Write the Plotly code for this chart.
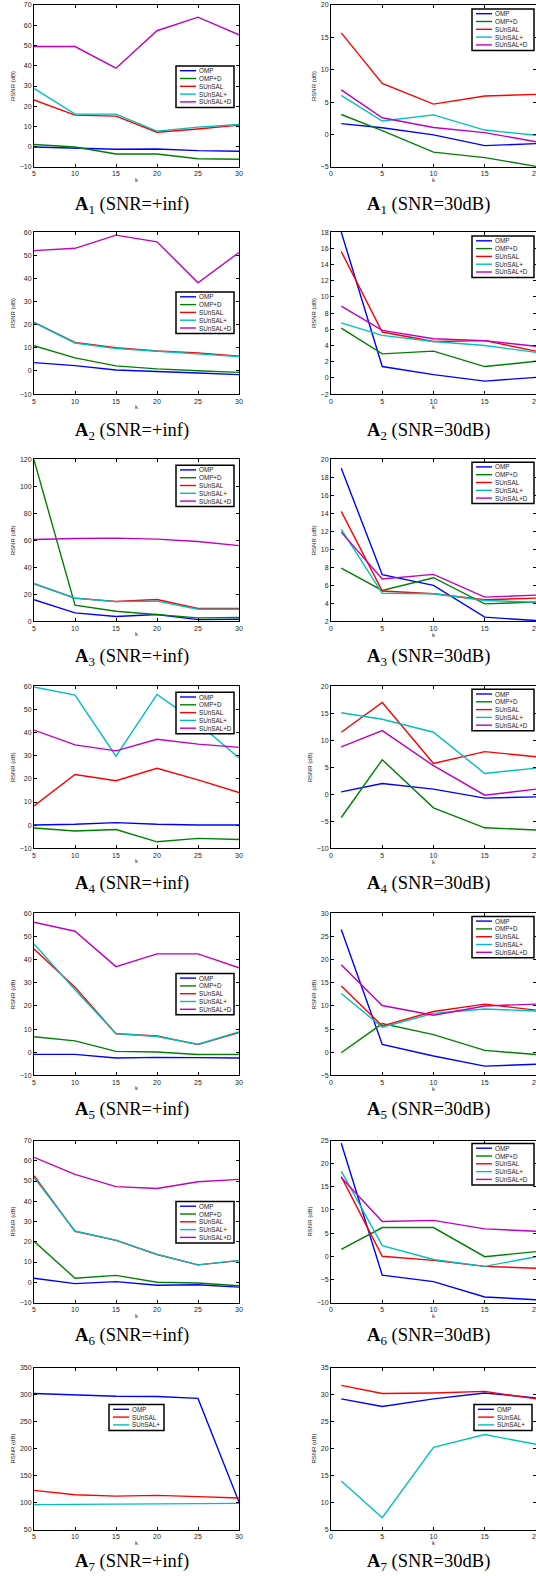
import plotly.graph_objects as go

# ---------------- data ----------------
K_INF = [5, 10, 15, 20, 25, 30]
K_30 = [1, 5, 10, 15, 20]
NAMES5 = ["OMP", "OMP+D", "SUnSAL", "SUnSAL+", "SUnSAL+D"]
NAMES3 = ["OMP", "SUnSAL", "SUnSAL+"]
TITLES = ["SNR=+inf", "SNR=30dB"]

A1_INF_OMP = [-0.1, -0.6, -1.2, -1.1, -1.9, -2.2]
A1_INF_OMPD = [1.1, -0.1, -3.6, -3.6, -5.9, -6.2]
A1_INF_SUN = [23.1, 15.6, 15.1, 7.2, 8.8, 10.7]
A1_INF_SUNP = [28.8, 16.1, 16.1, 7.7, 9.7, 11.0]
A1_INF_SUND = [49.5, 49.5, 38.8, 57.3, 64.0, 55.3]

A1_30_OMP = [1.7, 1.05, -0.05, -1.7, -1.4]
A1_30_OMPD = [3.1, 0.6, -2.7, -3.55, -4.9]
A1_30_SUN = [15.7, 7.9, 4.7, 5.95, 6.2]
A1_30_SUNP = [6.05, 2.1, 3.05, 0.7, -0.1]
A1_30_SUND = [6.9, 2.6, 1.1, 0.3, -1.1]

A2_INF_OMP = [3.6, 2.3, 0.4, -0.4, -0.9, -1.6]
A2_INF_OMPD = [10.9, 5.65, 2.2, 0.9, 0.1, -0.6]
A2_INF_SUN = [21.0, 12.3, 10.1, 8.6, 7.8, 6.4]
A2_INF_SUNP = [21.0, 12.1, 9.7, 8.5, 7.3, 6.2]
A2_INF_SUND = [52.0, 53.0, 58.7, 55.8, 38.1, 51.2]

A2_30_OMP = [18.0, 1.4, 0.4, -0.4, 0.07]
A2_30_OMPD = [6.15, 2.97, 3.3, 1.4, 2.05]
A2_30_SUN = [15.6, 5.66, 4.5, 4.6, 3.3]
A2_30_SUNP = [6.8, 5.25, 4.5, 4.0, 3.15]
A2_30_SUND = [8.85, 5.87, 4.83, 4.6, 3.9]

A3_INF_OMP = [15.9, 6.2, 3.5, 5.0, 1.2, 1.5]
A3_INF_OMPD = [119.5, 11.9, 7.4, 5.2, 2.5, 2.7]
A3_INF_SUN = [27.8, 17.1, 14.6, 16.1, 9.4, 9.4]
A3_INF_SUNP = [27.8, 17.0, 14.5, 14.9, 8.9, 8.8]
A3_INF_SUND = [60.5, 61.3, 61.5, 60.8, 59.0, 56.0]

A3_30_OMP = [19.0, 7.17, 5.98, 2.45, 2.07]
A3_30_OMPD = [7.9, 5.42, 6.83, 3.93, 4.12]
A3_30_SUN = [14.2, 5.35, 5.05, 4.38, 4.56]
A3_30_SUNP = [12.2, 5.1, 5.05, 4.3, 4.12]
A3_30_SUND = [11.9, 6.7, 7.2, 4.68, 4.9]

A4_INF_OMP = [0.1, 0.4, 1.1, 0.4, 0.1, 0.1]
A4_INF_OMPD = [-1.2, -2.5, -1.9, -7.2, -5.7, -6.2]
A4_INF_SUN = [8.3, 21.9, 19.2, 24.6, 19.6, 14.1]
A4_INF_SUNP = [59.7, 56.2, 29.8, 56.5, 44.0, 29.0]
A4_INF_SUND = [41.1, 34.7, 32.1, 37.1, 35.0, 33.6]

A4_30_OMP = [0.46, 2.0, 0.95, -0.7, -0.47]
A4_30_OMPD = [-4.3, 6.4, -2.5, -6.2, -6.6]
A4_30_SUN = [11.5, 17.0, 5.7, 7.9, 6.95]
A4_30_SUNP = [15.1, 13.9, 11.5, 3.86, 4.85]
A4_30_SUND = [8.8, 11.8, 5.3, -0.16, 0.95]

A5_INF_OMP = [-0.9, -0.9, -2.5, -2.2, -2.3, -2.5]
A5_INF_OMPD = [6.7, 4.9, 0.4, 0.1, -1.0, -0.9]
A5_INF_SUN = [44.6, 28.1, 8.0, 7.0, 3.3, 8.5]
A5_INF_SUNP = [46.8, 27.0, 8.1, 6.8, 3.5, 8.8]
A5_INF_SUND = [56.2, 52.3, 37.0, 42.5, 42.5, 36.5]

A5_30_OMP = [26.5, 1.7, -0.8, -3.0, -2.6]
A5_30_OMPD = [-0.1, 6.2, 3.8, 0.4, -0.5]
A5_30_SUN = [14.3, 5.7, 8.8, 10.4, 9.1]
A5_30_SUNP = [12.7, 5.4, 8.4, 9.35, 8.9]
A5_30_SUND = [18.9, 10.1, 8.0, 10.0, 10.4]

A6_INF_OMP = [2.0, -0.7, 0.3, -1.5, -1.2, -2.4]
A6_INF_OMPD = [20.2, 2.0, 3.4, 0.0, -0.4, -1.7]
A6_INF_SUN = [52.6, 25.1, 20.7, 13.7, 8.6, 10.7]
A6_INF_SUNP = [51.8, 25.3, 20.8, 13.8, 8.6, 10.8]
A6_INF_SUND = [61.7, 53.3, 47.2, 46.3, 49.6, 50.8]

A6_30_OMP = [24.4, -4.1, -5.5, -8.8, -9.4]
A6_30_OMPD = [1.5, 6.2, 6.2, -0.1, 1.0]
A6_30_SUN = [17.2, 0.0, -0.9, -2.2, -2.6]
A6_30_SUNP = [18.4, 2.3, -0.7, -2.2, -0.1]
A6_30_SUND = [17.0, 7.5, 7.75, 5.9, 5.4]

A7_INF_OMP = [302, 299, 297, 296.5, 293, 101]
A7_INF_SUN = [122.6, 114.6, 112, 113.4, 111, 108.5]
A7_INF_SUNP = [96.2, 96.8, 97.4, 96.8, 98, 98.6]

A7_30_OMP = [29.2, 27.8, 29.2, 30.3, 29.4]
A7_30_SUN = [31.7, 30.2, 30.3, 30.6, 29.2]
A7_30_SUNP = [14.0, 7.2, 20.25, 22.6, 20.8]

# ---------------- styling ----------------
COLORS = {"OMP": "#0000ff", "OMP+D": "#008000", "SUnSAL": "#ff0000",
          "SUnSAL+": "#00bfbf", "SUnSAL+D": "#bf00bf"}

PANELS = [
    ([A1_INF_OMP, A1_INF_OMPD, A1_INF_SUN, A1_INF_SUNP, A1_INF_SUND], [-10, 70], 10),
    ([A1_30_OMP, A1_30_OMPD, A1_30_SUN, A1_30_SUNP, A1_30_SUND], [-5, 20], 5),
    ([A2_INF_OMP, A2_INF_OMPD, A2_INF_SUN, A2_INF_SUNP, A2_INF_SUND], [-10, 60], 10),
    ([A2_30_OMP, A2_30_OMPD, A2_30_SUN, A2_30_SUNP, A2_30_SUND], [-2, 18], 2),
    ([A3_INF_OMP, A3_INF_OMPD, A3_INF_SUN, A3_INF_SUNP, A3_INF_SUND], [0, 120], 20),
    ([A3_30_OMP, A3_30_OMPD, A3_30_SUN, A3_30_SUNP, A3_30_SUND], [2, 20], 2),
    ([A4_INF_OMP, A4_INF_OMPD, A4_INF_SUN, A4_INF_SUNP, A4_INF_SUND], [-10, 60], 10),
    ([A4_30_OMP, A4_30_OMPD, A4_30_SUN, A4_30_SUNP, A4_30_SUND], [-10, 20], 5),
    ([A5_INF_OMP, A5_INF_OMPD, A5_INF_SUN, A5_INF_SUNP, A5_INF_SUND], [-10, 60], 10),
    ([A5_30_OMP, A5_30_OMPD, A5_30_SUN, A5_30_SUNP, A5_30_SUND], [-5, 30], 5),
    ([A6_INF_OMP, A6_INF_OMPD, A6_INF_SUN, A6_INF_SUNP, A6_INF_SUND], [-10, 70], 10),
    ([A6_30_OMP, A6_30_OMPD, A6_30_SUN, A6_30_SUNP, A6_30_SUND], [-10, 25], 5),
    ([A7_INF_OMP, A7_INF_SUN, A7_INF_SUNP], [50, 350], 50),
    ([A7_30_OMP, A7_30_SUN, A7_30_SUNP], [5, 35], 5),
]

# legend box positions relative to plot area (px from left/top), width
LEG_POS = [
    (142, 61, 58), (141, 4, 62),
    (142, 60, 58), (141, 4, 62),
    (142, 6, 58), (141, 3, 62),
    (142, 6, 58), (141, 3, 62),
    (142, 60, 58), (141, 3, 62),
    (142, 61, 58), (141, 3, 62),
    (75, 37, 55), (143, 37, 58),
]

W, H = 536, 1576
PW, PH = 205.0, 162.0
XL = (34, 239)
XR = (331, 536)
ROW0, PERIOD = 5.0, 227.1
TITLE0, TITLE_PERIOD = 205.5, 226.2

TICKFONT = dict(family="Liberation Sans, Arial, sans-serif", size=7, color="#262626")

fig = go.Figure()
layout = dict(width=W, height=H, autosize=False, margin=dict(l=0, r=0, t=0, b=0, pad=0),
              paper_bgcolor="white", plot_bgcolor="white", showlegend=False)
shapes, annots = [], []

for i, (series, yr, dt) in enumerate(PANELS):
    n = i + 1
    row, col = i // 2, i % 2
    xs = K_INF if col == 0 else K_30
    names = NAMES5 if len(series) == 5 else NAMES3
    xid = "x" if n == 1 else f"x{n}"
    yid = "y" if n == 1 else f"y{n}"
    for name, ys in zip(names, series):
        fig.add_trace(go.Scatter(x=xs, y=ys, mode="lines", name=name,
                                 line=dict(color=COLORS[name], width=1.4),
                                 xaxis=xid, yaxis=yid, showlegend=False))
    top = ROW0 + PERIOD * row
    bot = top + PH
    xd = XL if col == 0 else XR
    axkey = "" if n == 1 else str(n)
    layout["xaxis" + axkey] = dict(
        domain=[xd[0] / W, min(xd[1] / W, 1.0)], anchor=yid, automargin=False,
        range=[5, 30] if col == 0 else [0, 20], dtick=5, tick0=0,
        ticklabeloverflow="allow",
        showgrid=False, zeroline=False, showline=True, linecolor="black", linewidth=1,
        mirror="ticks", ticks="inside", ticklen=3, tickcolor="black", tickwidth=0.8,
        tickfont=TICKFONT,
        title=dict(text="k", font=dict(family="Liberation Sans, Arial", size=6, color="#262626"), standoff=1))
    layout["yaxis" + axkey] = dict(
        domain=[1 - bot / H, 1 - top / H], anchor=xid, automargin=False,
        range=yr, dtick=dt, tick0=0,
        showgrid=False, zeroline=False, showline=True, linecolor="black", linewidth=1,
        mirror="ticks", ticks="inside", ticklen=3, tickcolor="black", tickwidth=0.8,
        tickfont=TICKFONT,
        title=dict(text="RSNR (dB)", font=dict(family="Liberation Sans, Arial", size=6, color="#262626"), standoff=3))

    # legend (drawn inside the axes like MATLAB)
    xr, yrf = xid + " domain", yid + " domain"
    lx, ly, lw = LEG_POS[i]
    lh = 4.7 * 2 + 7.8 * (len(names) - 1) + 0.8
    shapes.append(dict(type="rect", xref=xr, yref=yrf, x0=lx / PW, x1=(lx + lw) / PW,
                       y0=1 - ly / PH, y1=1 - (ly + lh) / PH, layer="above",
                       line=dict(color="black", width=1.5), fillcolor="white"))
    for j, name in enumerate(names):
        yy = 1 - (ly + 4.7 + 7.8 * j) / PH
        shapes.append(dict(type="line", xref=xr, yref=yrf, x0=(lx + 4) / PW, x1=(lx + 20) / PW,
                           y0=yy, y1=yy, layer="above", line=dict(color=COLORS[name], width=1.4)))
        annots.append(dict(xref=xr, yref=yrf, x=(lx + 22) / PW, y=yy, text=name, showarrow=False,
                           xanchor="left", yanchor="middle", borderpad=0,
                           font=dict(family="Liberation Sans, Arial", size=6.3, color="#1a1a1a")))
    # panel caption
    tc = TITLE0 + TITLE_PERIOD * row
    annots.append(dict(xref=xr, yref=yrf, x=0.478, y=-(tc - bot) / PH, showarrow=False,
                       xanchor="center", yanchor="middle",
                       text=f"<b>A</b><sub>{row + 1}</sub> ({TITLES[col]})",
                       font=dict(family="Liberation Serif, Times New Roman, serif", size=18.5, color="black")))

layout["shapes"] = shapes
layout["annotations"] = annots
fig.update_layout(**layout)
fig.write_html("out.html", config={"displayModeBar": False},
               post_script="document.body.style.margin='0px';document.body.style.padding='0px';"
                           "document.body.style.overflow='hidden';")
